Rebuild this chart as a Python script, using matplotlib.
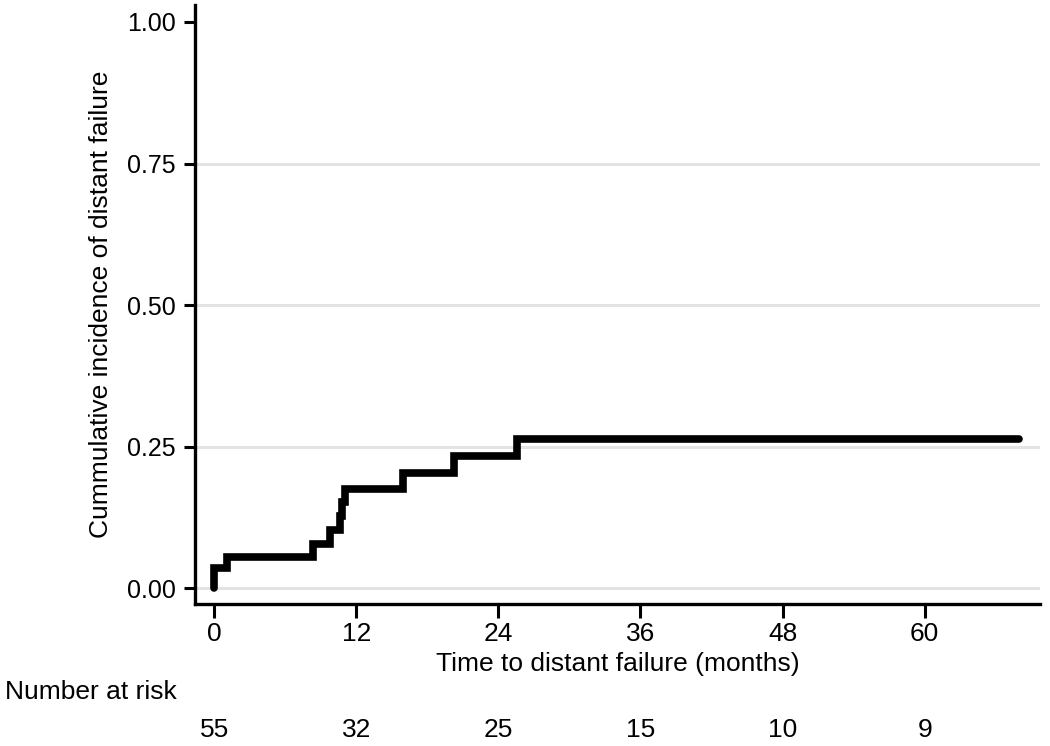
import matplotlib
matplotlib.use('Agg')
import matplotlib.pyplot as plt
import numpy as np

# Courbe d'incidence cumulée
times = [0, 0, 1.1, 8.3, 9.8, 10.6, 10.8, 11.05, 15.9, 20.25, 25.6, 68.0]
incidence = [0, 0.036, 0.055, 0.078, 0.102, 0.127, 0.152, 0.176, 0.204, 0.233, 0.263, 0.263]

x_ticks = [0, 12, 24, 36, 48, 60]
y_ticks = [0.00, 0.25, 0.50, 0.75, 1.00]
at_risk = [55, 32, 25, 15, 10, 9]

plt.rcParams['font.family'] = ['Liberation Sans', 'DejaVu Sans']

fig = plt.figure(figsize=(10.5, 7.46), dpi=100)
ax = fig.add_axes([0.186, 0.1903, 0.804, 0.803])

for y in y_ticks[:-1]:
    ax.axhline(y, color='#e3e3e3', lw=2.2, zorder=0)

ax.plot(times, incidence, drawstyle='steps-post', color='black', lw=5.5,
        solid_joinstyle='miter', solid_capstyle='round', zorder=3)

ax.set_xlim(-1.6, 69.7)
ax.set_ylim(-0.028, 1.030)
ax.set_xticks(x_ticks)
ax.set_yticks(y_ticks)
ax.set_yticklabels([f"{v:.2f}" for v in y_ticks])

for side in ['top', 'right']:
    ax.spines[side].set_visible(False)
for side in ['left', 'bottom']:
    ax.spines[side].set_linewidth(2.4)
ax.tick_params(axis='both', direction='out', width=2.2)
ax.tick_params(axis='y', length=8, labelsize=18, pad=6)
ax.tick_params(axis='x', length=10, labelsize=19, pad=3)

ax.set_xlabel("Time to distant failure (months)", fontsize=19, labelpad=4)
ax.set_ylabel("Cummulative incidence of distant failure", fontsize=19, labelpad=10)

# Tableau du nombre à risque
fig.text(5 / 1050, 1 - 692 / 746, "Number at risk", fontsize=19, ha='left', va='center')
for t, n in zip(x_ticks, at_risk):
    xf = ax.transData.transform((t, 0))[0] / fig.bbox.width
    fig.text(xf, 1 - 730 / 746, str(n), fontsize=19, ha='center', va='center')

fig.savefig('out.png', dpi=100)
